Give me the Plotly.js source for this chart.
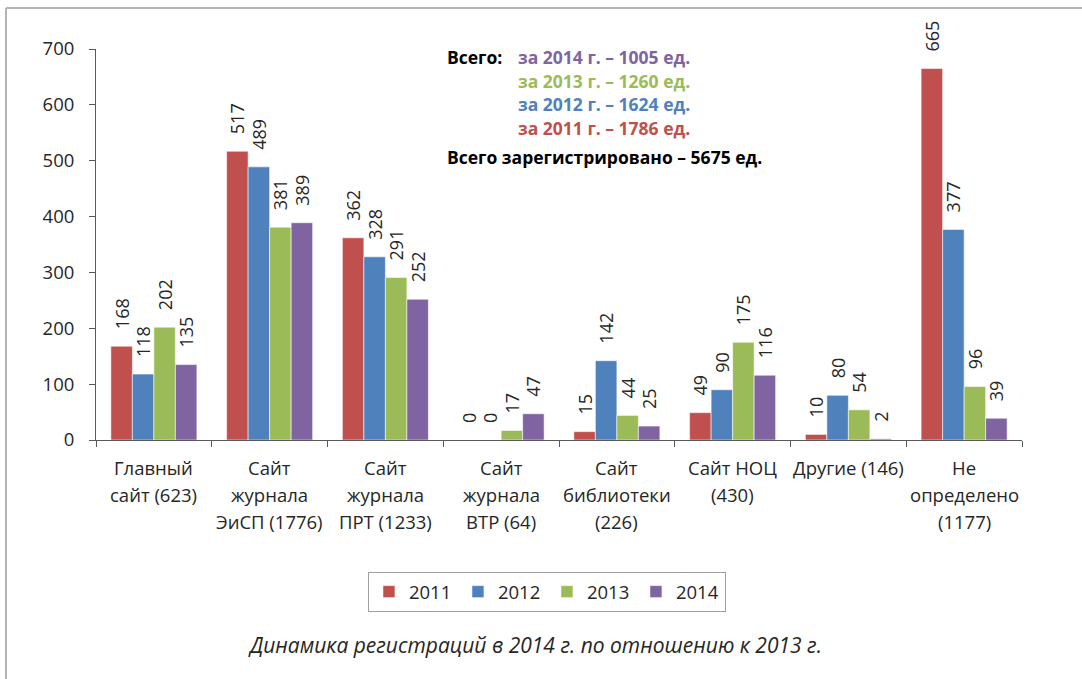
<!DOCTYPE html>
<html>
<head>
<meta charset="utf-8">
<script src="https://cdn.plot.ly/plotly-3.0.1.min.js"></script>
<style>
html,body{margin:0;padding:0;background:#fff;}
#chart{width:1082px;height:679px;}
</style>
</head>
<body>
<div id="chart"></div>
<script>
const categoryLines = [
  ["Главный", "сайт (623)"],
  ["Сайт", "журнала", "ЭиСП (1776)"],
  ["Сайт", "журнала", "ПРТ (1233)"],
  ["Сайт", "журнала", "ВТР (64)"],
  ["Сайт", "библиотеки", "(226)"],
  ["Сайт НОЦ", "(430)"],
  ["Другие (146)"],
  ["Не", "определено", "(1177)"]
];
const categories = categoryLines.map(l => l.join(" "));
const seriesNames = ["2011", "2012", "2013", "2014"];
const values2011 = [168, 517, 362, 0, 15, 49, 10, 665];
const values2012 = [118, 489, 328, 0, 142, 90, 80, 377];
const values2013 = [202, 381, 291, 17, 44, 175, 54, 96];
const values2014 = [135, 389, 252, 47, 25, 116, 2, 39];
const yTicks = [0, 100, 200, 300, 400, 500, 600, 700];

const totalsLabel = "Всего:";
const totalsLines = [
  {text: "за 2014 г. – 1005 ед.", color: "#8064A2"},
  {text: "за 2013 г. – 1260 ед.", color: "#9BBB59"},
  {text: "за 2012 г. – 1624 ед.", color: "#4F81BD"},
  {text: "за 2011 г. – 1786 ед.", color: "#C0504D"}
];
const grandTotal = "Всего зарегистрировано – 5675 ед.";
const caption = "Динамика регистраций в 2014 г. по отношению к 2013 г.";

const colors = ["#C0504D", "#4F81BD", "#9BBB59", "#8064A2"];
const allValues = [values2011, values2012, values2013, values2014];
const FONT = "'Open Sans', 'Noto Sans', sans-serif";
const TXT = "#262626";
const pad = "\u00a0\u00a0\u00a0";

const traces = allValues.map((vals, i) => ({
  type: "bar",
  name: seriesNames[i],
  x: categories,
  y: vals,
  text: vals.map(v => pad + v),
  textposition: "outside",
  textangle: -90,
  constraintext: "none",
  cliponaxis: false,
  textfont: {family: FONT, size: 18, color: TXT},
  marker: {color: colors[i], line: {color: "rgba(255,255,255,0.55)", width: 1}},
  hoverinfo: "x+y+name"
}));

const annotations = [];
// category labels (multi-line, with wider line spacing)
categoryLines.forEach((lines, ci) => {
  lines.forEach((t, li) => {
    annotations.push({xref: "x", yref: "paper", x: categories[ci], y: 0,
      xanchor: "center", yanchor: "middle", yshift: -27 - 27 * li,
      text: t, showarrow: false, font: {family: FONT, size: 18.5, color: TXT}});
  });
});
const lineY = [0.9795, 0.9182, 0.8593, 0.798];
const ANN = 17.5;
annotations.push({xref: "paper", yref: "paper", x: 0.3769, y: lineY[0], xanchor: "left", yanchor: "middle",
  text: "<b>" + totalsLabel + "</b>", showarrow: false, font: {family: FONT, size: ANN, color: "#000"}});
totalsLines.forEach((l, i) => {
  annotations.push({xref: "paper", yref: "paper", x: 0.4536, y: lineY[i], xanchor: "left", yanchor: "middle",
    text: "<b>" + l.text + "</b>", showarrow: false, font: {family: FONT, size: ANN, color: l.color}});
});
annotations.push({xref: "paper", yref: "paper", x: 0.3769, y: 0.7238, xanchor: "left", yanchor: "middle",
  text: "<b>" + grandTotal + "</b>", showarrow: false, font: {family: FONT, size: ANN, color: "#000"}});
annotations.push({xref: "paper", yref: "paper", x: 0.474, y: -0.524, xanchor: "center", yanchor: "middle",
  text: "<i>" + caption + "</i>", showarrow: false, font: {family: FONT, size: 21, color: TXT}});

const layout = {
  width: 1082, height: 679,
  margin: {l: 96, r: 60, t: 49, b: 239},
  paper_bgcolor: "#fff", plot_bgcolor: "#fff",
  barmode: "group",
  bargap: 0.257,
  bargroupgap: 0,
  showlegend: true,
  font: {family: FONT, size: 18, color: TXT},
  xaxis: {
    type: "category",
    categoryarray: categories,
    showgrid: false,
    showline: true, linecolor: "#595959", linewidth: 1,
    ticks: "outside", ticklen: 6, tickcolor: "#595959",
    tickson: "boundaries",
    showticklabels: false,
    fixedrange: true
  },
  yaxis: {
    range: [0, 700],
    tickvals: yTicks,
    showgrid: false, zeroline: false,
    showline: true, linecolor: "#595959", linewidth: 1,
    ticks: "outside", ticklen: 6, tickcolor: "#595959",
    tickfont: {family: FONT, size: 18.5, color: TXT},
    ticklabelstandoff: 11,
    fixedrange: true
  },
  legend: {
    orientation: "h",
    x: 0.487, xanchor: "center",
    y: -0.389, yanchor: "middle",
    bordercolor: "#a0a0a0", borderwidth: 1,
    font: {family: FONT, size: 18.5, color: TXT},
    itemwidth: 30,
    entrywidth: 44,
    traceorder: "normal"
  },
  annotations: annotations,
  shapes: [
    {type: "line", xref: "paper", yref: "paper", x0: -0.0972, x1: 1.1, y0: 1.1049, y1: 1.1049,
      line: {color: "#b4b4b4", width: 2}},
    {type: "line", xref: "paper", yref: "paper", x0: -0.0972, x1: -0.0972, y0: 1.1049, y1: -0.65,
      line: {color: "#b4b4b4", width: 2}}
  ]
};

Plotly.newPlot("chart", traces, layout, {displayModeBar: false, staticPlot: true});
</script>
</body>
</html>
